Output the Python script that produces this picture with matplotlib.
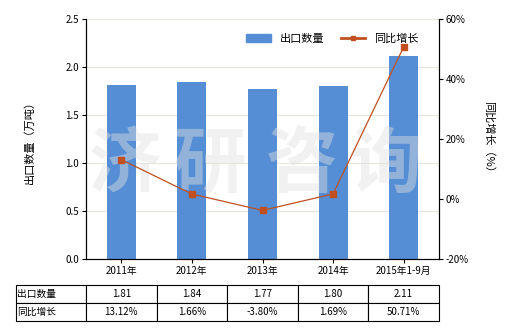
import matplotlib
matplotlib.use("Agg")
import matplotlib.pyplot as plt
from matplotlib.lines import Line2D
from matplotlib.patches import Patch

plt.rcParams['font.family'] = ['Noto Sans CJK SC', 'DejaVu Sans']
plt.rcParams['font.size'] = 7

years = ["2011年", "2012年", "2013年", "2014年", "2015年1-9月"]
export_qty = [1.81, 1.84, 1.77, 1.80, 2.11]
yoy_growth = [13.12, 1.66, -3.80, 1.69, 50.71]
qty_labels = ["1.81", "1.84", "1.77", "1.80", "2.11"]
growth_labels = ["13.12%", "1.66%", "-3.80%", "1.69%", "50.71%"]

bar_color = "#558ED5"
line_color = "#C0501F"

fig = plt.figure(figsize=(5.2, 3.3), dpi=100)
ax = fig.add_axes([86/520, 1-259/330, 353/520, 240/330])
x = list(range(len(years)))

ax.bar(x, export_qty, width=0.41, color=bar_color, zorder=2)
ax.set_xlim(-0.5, 4.5)
ax.set_ylim(0, 2.5)
ax.set_yticks([0, 0.5, 1.0, 1.5, 2.0, 2.5])
ax.set_yticklabels(["0.0", "0.5", "1.0", "1.5", "2.0", "2.5"])
ax.set_xticks(x)
ax.set_xticklabels(years)
ax.yaxis.grid(True, color="#E8E6DC", linewidth=0.8, zorder=0)
ax.set_axisbelow(True)
ax.spines['top'].set_visible(False)
ax.tick_params(length=3, width=0.8, pad=2)
ax.set_ylabel("出口数量（万吨）", fontsize=8, labelpad=22)

ax2 = ax.twinx()
ax2.plot(x, yoy_growth, color=line_color, linewidth=0.9, marker="s", markersize=4, zorder=4)
ax2.set_ylim(-20, 60)
ax2.set_yticks([-20, 0, 20, 40, 60])
ax2.set_yticklabels(["-20%", "0%", "20%", "40%", "60%"])
ax2.spines['top'].set_visible(False)
ax2.tick_params(length=3, width=0.8, pad=2)
ax2.set_ylabel("同比增长（%）", fontsize=8, rotation=-90, labelpad=18)

# watermark
for xpos, ch in zip([0.11, 0.35, 0.61, 0.85], "济研咨询"):
    ax.text(xpos, 0.39, ch, transform=ax.transAxes, fontsize=52, fontweight="bold",
            color="#E0E0E0", alpha=0.45, ha="center", va="center", zorder=5)

handles = [Patch(color=bar_color), Line2D([], [], color=line_color, marker="s", markersize=3, linewidth=2)]
ax2.legend(handles, ["出口数量", "同比增长"], loc="upper right", bbox_to_anchor=(0.97, 0.98),
           ncol=2, frameon=False, fontsize=8, handlelength=2.2, columnspacing=1.5)

# data table below
cells = [["出口数量"] + qty_labels, ["同比增长"] + growth_labels]
tbl = ax.table(cellText=cells, cellLoc="center", colWidths=[70/423] + [70.6/423]*5,
               bbox=[(16-86)/353, (259-321)/240, 423/353, 36/240])
tbl.auto_set_font_size(False)
tbl.set_fontsize(7)
for (r, c), cell in tbl.get_celld().items():
    cell.set_linewidth(0.8)
    if c == 0:
        cell.set_text_props(ha="left")
        cell.PAD = 0.02

fig.savefig("out.png", dpi=100)
